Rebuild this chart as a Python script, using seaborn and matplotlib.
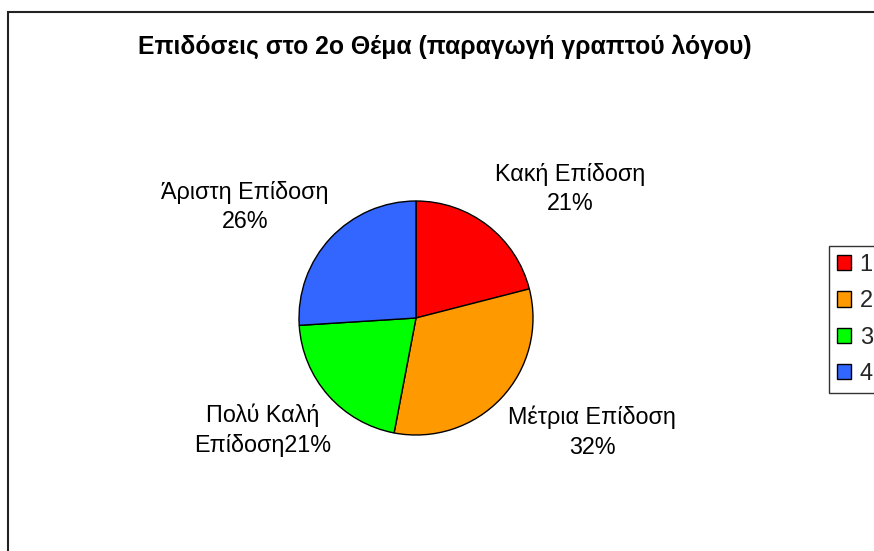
import matplotlib
matplotlib.use("Agg")
import matplotlib.pyplot as plt
from matplotlib.patches import Rectangle, Patch
import seaborn as sns

# ---- data ----
categories = ["Κακή Επίδοση", "Μέτρια Επίδοση", "Πολύ Καλή Επίδοση", "Άριστη Επίδοση"]
values = [21, 32, 21, 26]
label_texts = ["Κακή Επίδοση\n21%", "Μέτρια Επίδοση\n32%", "Πολύ Καλή\nΕπίδοση21%", "Άριστη Επίδοση\n26%"]
legend_labels = ["1", "2", "3", "4"]
colors = ["#FF0000", "#FF9900", "#00FF00", "#3366FF"]
title = "Επιδόσεις στο 2ο Θέμα (παραγωγή γραπτού λόγου)"

# ---- layout (pixels) ----
W, H = 874, 551
center = (416, H - 318)
radius = 117
label_pos = [(570, H - 189), (592, H - 432), (263, H - 430), (245, H - 207)]

sns.set_theme(style="white")
plt.rcParams["font.family"] = ["Liberation Sans", "DejaVu Sans"]

fig = plt.figure(figsize=(W / 100, H / 100), dpi=100)
fig.patch.set_facecolor("white")
ax = fig.add_axes([0, 0, 1, 1])
ax.set_xlim(0, W)
ax.set_ylim(0, H)
ax.set_aspect("equal")
ax.axis("off")

ax.pie(values, colors=colors, startangle=90, counterclock=False,
       center=center, radius=radius, frame=False,
       wedgeprops=dict(edgecolor="black", linewidth=1.0))
ax.set_xlim(0, W)
ax.set_ylim(0, H)

for t, (x, y) in zip(label_texts, label_pos):
    ax.text(x, y, t, ha="center", va="center", fontsize=16.8,
            linespacing=1.38, color="black")

ax.text(445, H - 47, title, ha="center", va="center", fontsize=17.8,
        fontweight="bold", color="black")

# chart area frame
fig.patches.append(Rectangle((8 / W, -0.2), 1.5, 1 - 12 / H + 0.2,
                             transform=fig.transFigure, fill=False,
                             edgecolor="#222222", linewidth=1.5))

handles = [Patch(facecolor=c, edgecolor="black", linewidth=1.0) for c in colors]
leg = fig.legend(handles, legend_labels, loc="upper left",
                 bbox_to_anchor=(829 / W, 1 - 246 / H), frameon=True,
                 fancybox=False, fontsize=17, handlelength=0.62,
                 handleheight=0.62, handletextpad=0.35, labelspacing=0.61,
                 borderpad=0.33, borderaxespad=0)
leg.get_frame().set_edgecolor("black")
leg.get_frame().set_linewidth(1.0)

fig.savefig("out.png", dpi=100)
